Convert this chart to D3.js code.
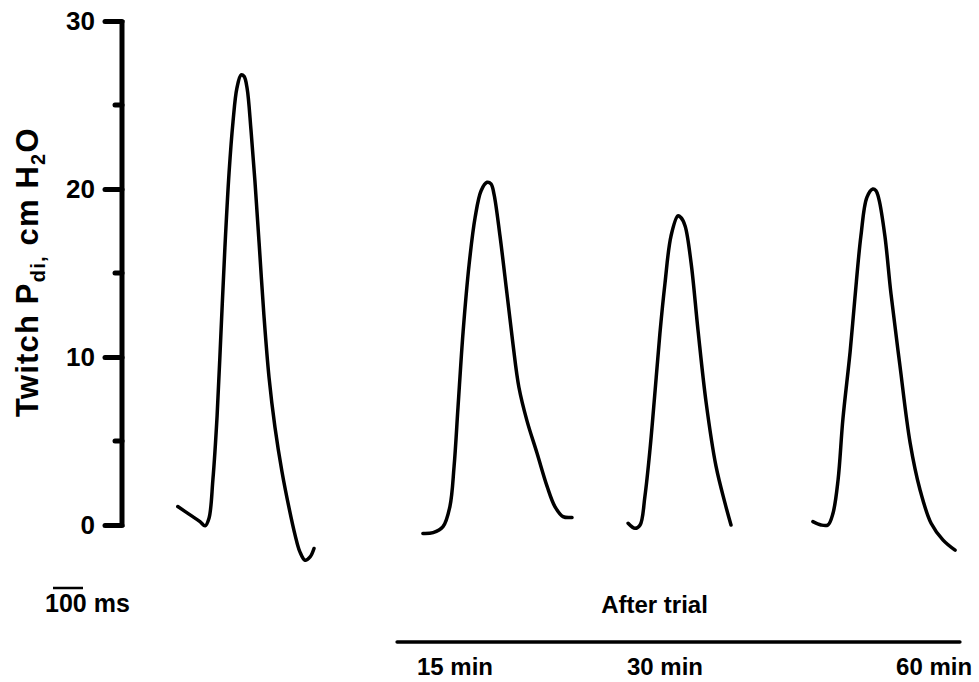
<!DOCTYPE html>
<html>
<head>
<meta charset="utf-8">
<script src="https://d3js.org/d3.v7.min.js"></script>
<style>
  body { margin: 0; background: #fff; }
  svg text { font-family: "Liberation Sans", Arial, sans-serif; font-weight: bold; fill: #000; }
</style>
</head>
<body>
<div id="chart"></div>
<script>

// twitch traces: time on the record (ms) and Pdi (cm H2O)
var controlT = [426, 467, 500, 517, 530, 543, 557, 570, 583, 597, 610, 623, 637, 647, 657, 670, 683, 697, 713, 730, 750, 773, 797, 817, 833, 850, 867, 880]
var controlP = [1.1, 0.6, 0.2, -0.05, 0.4, 2.7, 6.5, 11.5, 16.5, 21.0, 24.0, 26.0, 26.8, 26.7, 26.0, 23.5, 20.5, 16.8, 12.5, 8.8, 5.8, 3.2, 1.0, -0.6, -1.6, -2.1, -1.9, -1.4]

var min15T = [1243, 1277, 1310, 1333, 1347, 1360, 1377, 1397, 1417, 1437, 1457, 1470, 1480, 1500, 1523, 1543, 1563, 1590, 1623, 1657, 1683, 1710, 1740]
var min15P = [-0.5, -0.45, -0.1, 1.1, 3.5, 7.0, 11.5, 15.5, 18.3, 19.9, 20.4, 20.3, 19.7, 17.2, 13.8, 10.8, 8.2, 6.2, 4.3, 2.3, 1.1, 0.5, 0.45]

var min30T = [1927, 1950, 1967, 1983, 2000, 2017, 2033, 2050, 2070, 2093, 2103, 2117, 2137, 2160, 2187, 2220, 2250, 2270]
var min30P = [0.1, -0.2, 0, 1.7, 4.5, 8.0, 11.4, 14.4, 17.2, 18.4, 18.3, 17.8, 15.6, 11.6, 7.3, 3.5, 1.3, 0]

var min60T = [2543, 2570, 2593, 2610, 2627, 2643, 2667, 2683, 2703, 2723, 2743, 2753, 2763, 2783, 2803, 2833, 2867, 2900, 2937, 2977, 3017]
var min60P = [0.2, 0, 0, 0.7, 2.7, 6.3, 10.3, 13.5, 17.2, 19.5, 20.0, 19.9, 19.4, 17.2, 13.8, 9.5, 4.9, 2.1, 0.1, -0.9, -1.5]

var majorTicks = [0, 10, 20, 30]
var minorTicks = [5, 15, 25]

// time labels under the "After trial" bar (ms positions)
var timeLabels = ["15 min", "30 min", "60 min"]
var timeLabelT = [1350, 2050, 2947]
var trialBar = [1157, 3033]
var scaleBarMs = [10, 110]

var width = 979, height = 682

var x = d3.scaleLinear().domain([0, 3100]).range([50, 980])
var y = d3.scaleLinear().domain([0, 30]).range([525, 21])

var svg = d3.select("#chart").append("svg")
    .attr("width", width)
    .attr("height", height)

// y axis
var axis = svg.append("g")
    .attr("transform", "translate(122,0)")
    .call(d3.axisLeft(y).tickValues(majorTicks).tickSize(17).tickSizeOuter(0).tickPadding(10))
axis.select(".domain").attr("stroke-width", 5).attr("d", "M0," + (y(0) + 2) + "V" + (y(30) - 1))
axis.selectAll(".tick line").attr("stroke-width", 5).attr("stroke-linecap", "round")
axis.selectAll(".tick text").style("font-size", "26px").attr("font-family", null)

axis.selectAll(".minor").data(minorTicks).enter().append("line")
    .attr("class", "minor")
    .attr("x1", -7).attr("x2", 0)
    .attr("y1", function(d) { return y(d) }).attr("y2", function(d) { return y(d) })
    .attr("stroke", "#000").attr("stroke-width", 5).attr("stroke-linecap", "round")

// y label
var ylab = svg.append("text")
    .attr("transform", "translate(38,417) rotate(-90)")
    .style("font-size", "31px")
    .style("letter-spacing", "1.2px")
ylab.append("tspan").text("Twitch P")
ylab.append("tspan").text("di,").style("font-size", "20px").attr("dy", 7)
ylab.append("tspan").text(" cm H").attr("dy", -7)
ylab.append("tspan").text("2").style("font-size", "20px").attr("dy", 7)
ylab.append("tspan").text("O").attr("dy", -7)

// traces
var line = d3.line()
    .x(function(d) { return x(d[0]) })
    .y(function(d) { return y(d[1]) })
    .curve(d3.curveCatmullRom)

var traces = [[controlT, controlP], [min15T, min15P], [min30T, min30P], [min60T, min60P]]
svg.selectAll(".trace").data(traces).enter().append("path")
    .attr("class", "trace")
    .attr("d", function(d) { return line(d3.zip(d[0], d[1])) })
    .attr("fill", "none")
    .attr("stroke", "#000")
    .attr("stroke-width", 3.5)
    .attr("stroke-linejoin", "round")
    .attr("stroke-linecap", "round")

// 100 ms scale bar
svg.append("line")
    .attr("x1", x(scaleBarMs[0])).attr("x2", x(scaleBarMs[1]))
    .attr("y1", 588).attr("y2", 588)
    .attr("stroke", "#000").attr("stroke-width", 2.5)
svg.append("text")
    .attr("x", 45).attr("y", 612)
    .style("font-size", "25px")
    .text("100 ms")

// after trial bracket
svg.append("line")
    .attr("x1", x(trialBar[0])).attr("x2", x(trialBar[1]))
    .attr("y1", 642).attr("y2", 642)
    .attr("stroke", "#000").attr("stroke-width", 3.5).attr("stroke-linecap", "round")
svg.append("text")
    .attr("x", x((trialBar[0] + trialBar[1]) / 2) - 24).attr("y", 613)
    .attr("text-anchor", "middle")
    .style("font-size", "24px")
    .text("After trial")

svg.selectAll(".tlab").data(timeLabels).enter().append("text")
    .attr("class", "tlab")
    .attr("x", function(d, i) { return x(timeLabelT[i]) })
    .attr("y", 675)
    .attr("text-anchor", "middle")
    .style("font-size", "24px")
    .text(function(d) { return d })

</script>
</body>
</html>
